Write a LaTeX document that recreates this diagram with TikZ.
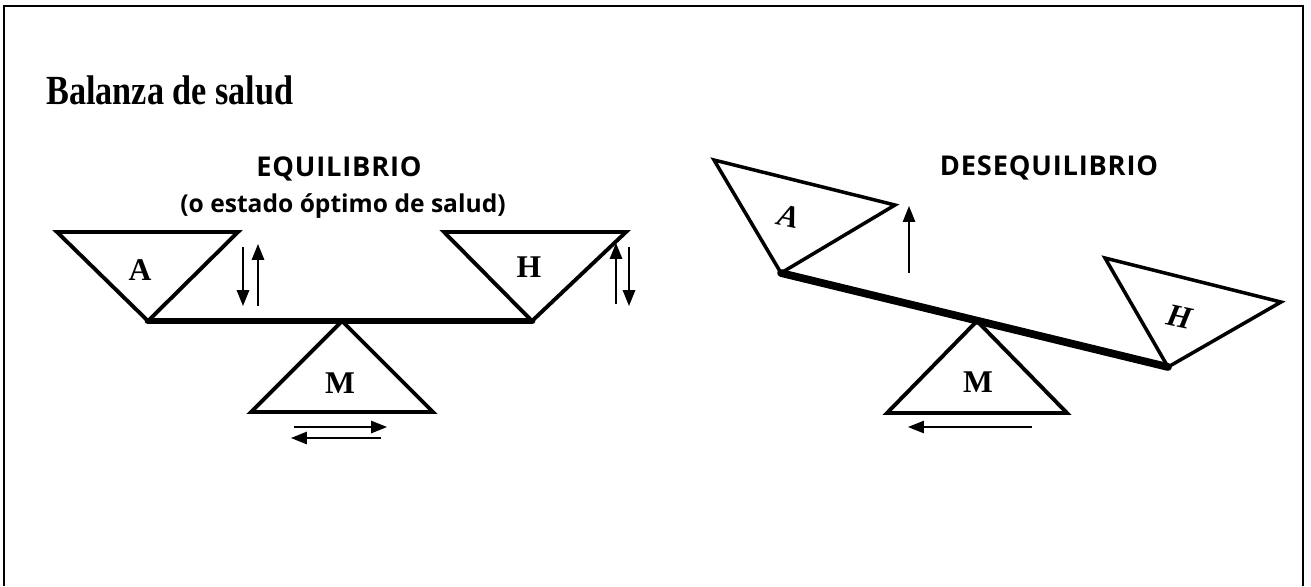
\documentclass[tikz,border=0pt]{standalone}
\usepackage{fontspec}
\setmainfont{Liberation Serif}
\setsansfont{Open Sans}
\usetikzlibrary{arrows.meta}

\begin{document}
\begin{tikzpicture}[x=0.02cm,y=-0.02cm,
    pan/.style={line width=2.2pt,line join=miter},
    beam/.style={line width=3.8pt,line cap=round},
    move/.style={line width=1pt,-{Triangle[length=9pt,width=7pt]}},
    letter/.style={font=\fontsize{18}{20}\selectfont\bfseries},
    tilted/.style={font=\fontsize{18}{20}\selectfont\bfseries\itshape,rotate=-12},
    heading/.style={font=\sffamily\fontsize{15.5}{18}\selectfont\bfseries\addfontfeature{LetterSpace=3}},
    subheading/.style={font=\sffamily\fontsize{14}{17}\selectfont\bfseries}]
    \useasboundingbox (0,0) rectangle (1311,586);
    \draw[line width=1.1pt] (4,586) -- (4,6) -- (1303,6) -- (1303,586);

    \node[anchor=base west,inner sep=0] (title) at (46,104)
    {\scalebox{0.95}[1.15]{\fontsize{20.5}{24}\selectfont\bfseries Balanza de salud}};

    % equilibrio
    \node[heading,anchor=base] (eq) at (339,176) {EQUILIBRIO};
    \node[subheading,anchor=base] (eqsub) at (343,212) {(o estado óptimo de salud)};

    \coordinate (a1) at (57,232);
    \coordinate (a2) at (238,232);
    \coordinate (la) at (148,321);
    \coordinate (h1) at (444,232);
    \coordinate (h2) at (626,232);
    \coordinate (lh) at (532,321);
    \coordinate (lf) at (342,321);
    \coordinate (m1) at (251,412);
    \coordinate (m2) at (433,412);

    \draw[pan] (a1) -- (a2) -- (la) -- cycle;
    \draw[pan] (h1) -- (h2) -- (lh) -- cycle;
    \draw[pan] (m1) -- (m2) -- (lf) -- cycle;
    \draw[beam] (la) -- (lh);

    \node[letter] (la-txt) at (140,270) {A};
    \node[letter] (lh-txt) at (529,267) {H};
    \node[letter] (lm-txt) at (340,383) {M};

    \draw[move] (243,247) -- (243,306);
    \draw[move] (258,306) -- (258,244);
    \draw[move] (616,304) -- (616,243);
    \draw[move] (629,247) -- (629,306);
    \draw[move] (294,427) -- (387,427);
    \draw[move] (381,438) -- (291,438);

    % desequilibrio
    \node[heading,anchor=base] (deseq) at (1049,175) {DESEQUILIBRIO};

    \coordinate (b1) at (714,160);
    \coordinate (b2) at (895,205);
    \coordinate (ra) at (781,273);
    \coordinate (k1) at (1105,258);
    \coordinate (k2) at (1281,302);
    \coordinate (rh) at (1168,367);
    \coordinate (rf) at (977,321);
    \coordinate (n1) at (887,413);
    \coordinate (n2) at (1067,413);

    \draw[pan,line width=2pt] (b1) -- (b2) -- (ra) -- cycle;
    \draw[pan,line width=2pt] (k1) -- (k2) -- (rh) -- cycle;
    \draw[pan] (n1) -- (n2) -- (rf) -- cycle;
    \draw[beam,line width=4.4pt] (ra) -- (rh);

    \node[tilted] (ra-txt) at (789,216) {A};
    \node[tilted] (rh-txt) at (1180,317) {H};
    \node[letter] (rm-txt) at (978,382) {M};

    \draw[move,line width=0.8pt] (909,273) -- (909,206);
    \draw[move,line width=0.8pt] (1032,427) -- (908,427);
\end{tikzpicture}
\end{document}
